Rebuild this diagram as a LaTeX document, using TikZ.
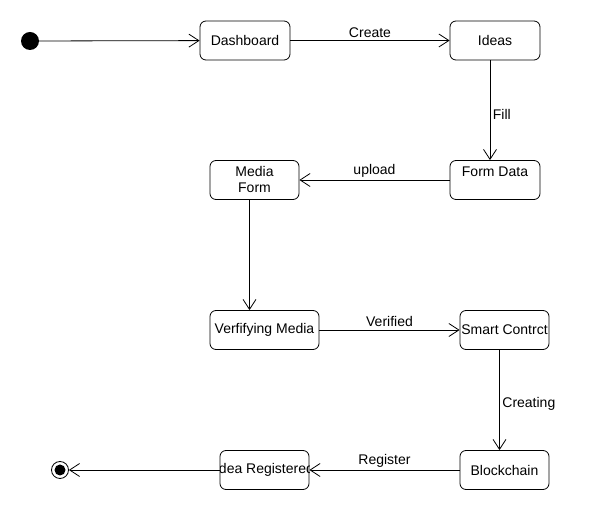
\documentclass[tikz,border=0pt]{standalone}
\usepackage{fontspec}
\setmainfont{Liberation Sans}
\usetikzlibrary{arrows.meta}
\newcommand{\rowone}{40.5}
\newcommand{\rowtwo}{180}
\newcommand{\rowthree}{330}
\newcommand{\rowfour}{470}
\newcommand{\statewidth}{89pt}
\newcommand{\stateheight}{39pt}
\newcommand{\stemshift}{-5pt}

\begin{document}
\begin{tikzpicture}[x=1pt,y=-1pt]
\tikzstyle{state}=[draw, line width=0.8pt, rounded corners=6pt, minimum width=\statewidth, minimum height=\stateheight, inner sep=0pt, align=center, font=\fontsize{14}{16}\selectfont]
\tikzstyle{trans}=[line width=0.8pt, -{Straight Barb[length=10pt,width=13pt,line width=0.8pt]}]
\tikzstyle{label}=[inner sep=2.5pt, font=\fontsize{14}{16}\selectfont]
\useasboundingbox (0,0) rectangle (590,510);

%% start and end points
\node (start) [circle, fill, minimum size=18pt, inner sep=0pt] at (30,41) {};
\node (stop) [circle, draw, line width=0.8pt, minimum size=17pt, inner sep=0pt] at (60,\rowfour) {};
\node (stopdot) [circle, fill, minimum size=11pt, inner sep=0pt] at (stop) {};

%% states
\node (dashboard) [state, minimum width=90pt] at (245,\rowone) {Dashboard};
\node (ideas) [state, minimum width=90pt] at (495,\rowone) {Ideas};
\node (formdata) [state, minimum width=90pt, text height=10pt, text depth=16pt] at (495,\rowtwo) {Form Data};
\node (mediaform) [state] at (254.5,\rowtwo) {Media\\Form};
\node (verifying) [state, minimum width=109pt] at (264.5,\rowthree) {Verfifying Media};
\node (smart) [state] at (504.5,\rowthree) {Smart Contrct};
\node (blockchain) [state] at (504.5,\rowfour) {Blockchain};
\node (registered) [state, path picture={\node [font=\fontsize{14}{16}\selectfont] at (path picture bounding box.center) {Idea Registered};}] at (264.5,\rowfour) {};

%% transitions
\draw [trans] (start) -- (dashboard);
\draw [trans] (dashboard) -- node (create) [label, above] {Create} (ideas);
\draw [trans] ([xshift=\stemshift]ideas.south) -- node (fill) [label, right, pos=0.54] {Fill} ([xshift=\stemshift]formdata.north);
\draw [trans] (formdata) -- node (upload) [label, above] {upload} (mediaform);
\draw [trans] ([xshift=\stemshift]mediaform.south) -- ([xshift=-15pt]verifying.north);
\draw [trans] (verifying) -- node (verified) [label, above] {Verified} (smart);
\draw [trans] ([xshift=\stemshift]smart.south) -- node (creating) [label, right, pos=0.54] {Creating} ([xshift=\stemshift]blockchain.north);
\draw [trans] (blockchain) -- node (register) [label, above] {Register} (registered);
\draw [trans] (registered) -- (stop);

\end{tikzpicture}
\end{document}
